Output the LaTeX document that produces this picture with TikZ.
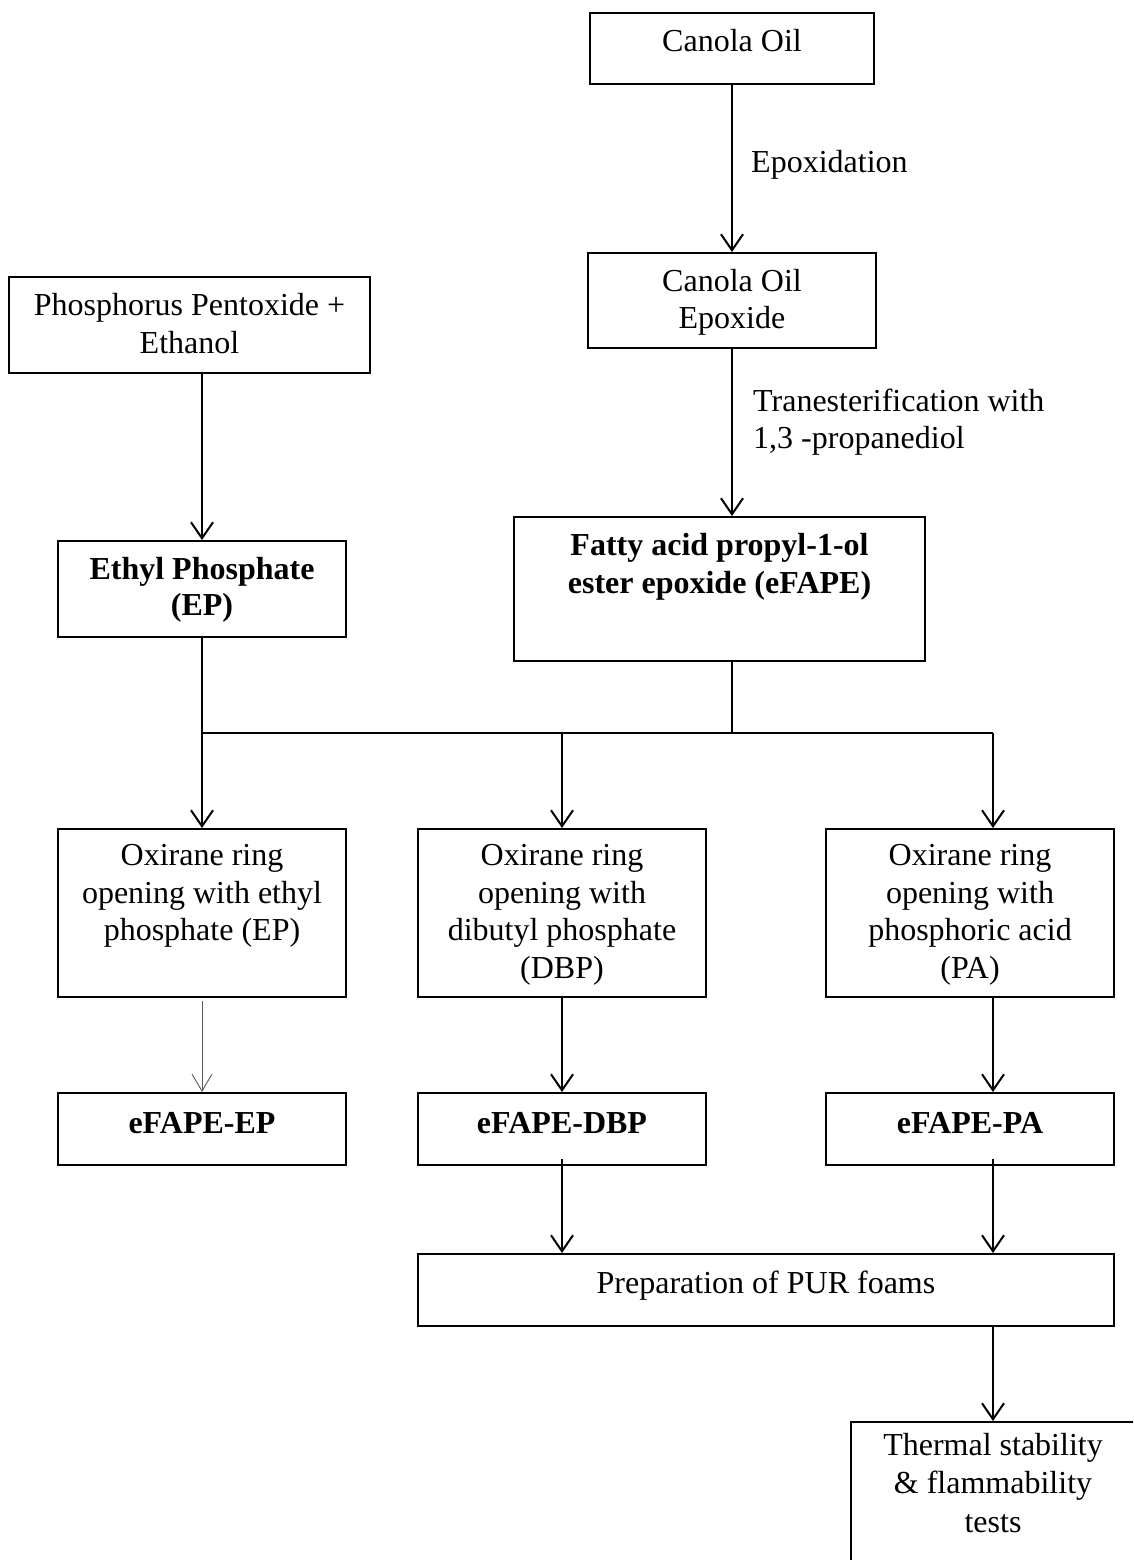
\documentclass[tikz,border=0pt]{standalone}
\usepackage{fontspec}
\setmainfont{Liberation Serif}
\usetikzlibrary{arrows.meta}
\begin{document}
\begin{tikzpicture}[x=1pt,y=-1pt,
  box/.style={draw,line width=2pt,rectangle,inner sep=0pt},
  txt/.style={anchor=base,inner sep=0pt,font=\fontsize{32}{38}\selectfont},
  btxt/.style={txt,font=\fontsize{32}{38}\selectfont\bfseries},
  arr/.style={line width=2pt,-{Straight Barb[length=16pt,width=22pt,line width=2pt]}},
  thinarr/.style={line width=0.9pt,draw=black!65,-{Straight Barb[length=17pt,width=20pt,line width=0.9pt]}},
  conn/.style={line width=2pt}]
\useasboundingbox[fill=white] (0,0) rectangle (1133,1560);
\clip (0,0) rectangle (1133,1560);
% boxes
\node[box,minimum width=284pt,minimum height=71pt] (co) at (732,48.5) {};
\node[box,minimum width=288pt,minimum height=95pt] (coe) at (732,300.5) {};
\node[box,minimum width=361pt,minimum height=96pt] (pp) at (189.5,325) {};
\node[box,minimum width=288pt,minimum height=96pt] (ep) at (202,589) {};
\node[box,minimum width=411pt,minimum height=144pt] (fape) at (719.5,589) {};
\node[box,minimum width=288pt,minimum height=168pt] (ox1) at (202,913) {};
\node[box,minimum width=288pt,minimum height=168pt] (ox2) at (562,913) {};
\node[box,minimum width=288pt,minimum height=168pt] (ox3) at (970,913) {};
\node[box,minimum width=288pt,minimum height=72pt] (p1) at (202,1129) {};
\node[box,minimum width=288pt,minimum height=72pt] (p2) at (562,1129) {};
\node[box,minimum width=288pt,minimum height=72pt] (p3) at (970,1129) {};
\node[box,minimum width=696pt,minimum height=72pt] (pur) at (766,1290) {};
\node[box,minimum width=284pt,minimum height=200pt] (th) at (993,1522) {};
% texts
\node[txt] (tco) at (732,52) {Canola Oil};
\node[txt,anchor=base west] (tepox) at (751,172) {Epoxidation};
\node[txt] (tcoe1) at (732,291) {Canola Oil};
\node[txt] (tcoe2) at (732,328) {Epoxide};
\node[txt] (tpp1) at (189.5,315) {Phosphorus Pentoxide +};
\node[txt] (tpp2) at (189.5,353) {Ethanol};
\node[txt,anchor=base west] (ttr1) at (753,411) {Tranesterification with};
\node[txt,anchor=base west] (ttr2) at (753,448) {1,3 -propanediol};
\node[btxt] (tep1) at (202,579) {Ethyl Phosphate};
\node[btxt] (tep2) at (202,615) {(EP)};
\node[btxt] (tfa1) at (719.5,555) {Fatty acid propyl-1-ol};
\node[btxt] (tfa2) at (719.5,593) {ester epoxide (eFAPE)};
\node[txt] (to11) at (202,865) {Oxirane ring};
\node[txt] (to12) at (202,903) {opening with ethyl};
\node[txt] (to13) at (202,940) {phosphate (EP)};
\node[txt] (to21) at (562,865) {Oxirane ring};
\node[txt] (to22) at (562,903) {opening with};
\node[txt] (to23) at (562,940) {dibutyl phosphate};
\node[txt] (to24) at (562,978) {(DBP)};
\node[txt] (to31) at (970,865) {Oxirane ring};
\node[txt] (to32) at (970,903) {opening with};
\node[txt] (to33) at (970,940) {phosphoric acid};
\node[txt] (to34) at (970,978) {(PA)};
\node[btxt] (tp1) at (202,1133) {eFAPE-EP};
\node[btxt] (tp2) at (562,1133) {eFAPE-DBP};
\node[btxt] (tp3) at (970,1133) {eFAPE-PA};
\node[txt] (tpur) at (766,1293) {Preparation of PUR foams};
\node[txt] (tth1) at (993,1455) {Thermal stability};
\node[txt] (tth2) at (993,1493) {\& flammability};
\node[txt] (tth3) at (993,1532) {tests};
% junction coordinates
\coordinate (busL) at (202,733);
\coordinate (busM) at (732,733);
\coordinate (busR) at (993,733);
% connectors
\draw[arr] (co.south) -- (coe.north);
\draw[arr] (coe.south) -- (coe.south |- fape.north);
\draw[arr] (pp.south -| ep.north) -- (ep.north);
\draw[conn] (busL) -- (busR);
\draw[conn] (fape.south -| busM) -- (busM);
\draw[arr] (ep.south) -- (ox1.north);
\draw[arr] (ox2.north |- busL) -- (ox2.north);
\draw[arr] (busR) -- (busR |- ox3.north);
\draw[thinarr] ([yshift=-3pt]ox1.south) -- (p1.north);
\draw[arr] (ox2.south) -- (p2.north);
\draw[arr] (ox3.south -| busR) -- (p3.north -| busR);
\draw[arr] ([yshift=7pt]p2.south) -- (p2.south |- pur.north);
\draw[arr] ([yshift=7pt]p3.south -| busR) -- (pur.north -| busR);
\draw[arr] (pur.south -| th.north) -- (th.north);
\end{tikzpicture}
\end{document}
